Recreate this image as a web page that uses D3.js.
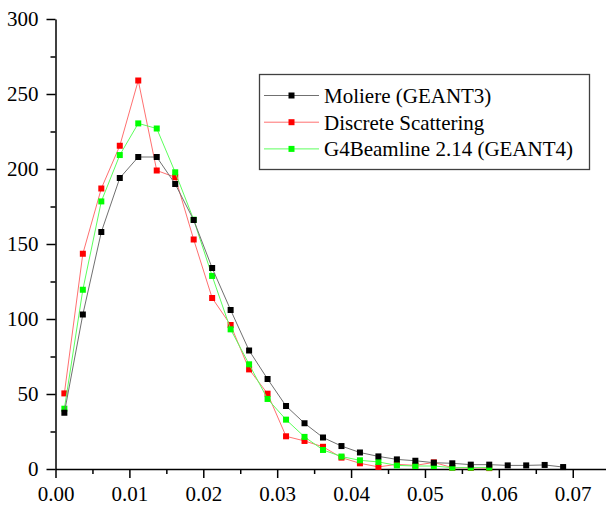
<!DOCTYPE html>
<html>
<head>
<meta charset="utf-8">
<script src="https://cdn.jsdelivr.net/npm/d3@7"></script>
<style>
  body { margin: 0; background: #fff; }
  svg { display: block; }
  .axis path, .axis line { stroke: #000; stroke-width: 1.5; }
</style>
</head>
<body>
<svg id="chart"></svg>
<script>
// bin centres (x)
const xValues = [0.0012, 0.0037, 0.0062, 0.0087, 0.0112, 0.0137, 0.0162, 0.0187, 0.0212, 0.0237,
                 0.0262, 0.0287, 0.0312, 0.0337, 0.0362, 0.0387, 0.0412, 0.0437, 0.0462, 0.0487,
                 0.0512, 0.0537, 0.0562, 0.0587, 0.0612, 0.0637, 0.0662, 0.0687];

// Moliere (GEANT3)
const moliere = [37.5, 103, 158, 194, 208, 208, 190, 166, 134, 106,
                 79, 60, 42, 30.5, 21, 15.3, 11, 8.4, 6.4, 5.5,
                 4.2, 3.8, 2.9, 2.9, 2.4, 2.4, 2.7, 1.3];

// Discrete Scattering
const discrete = [50.4, 143.5, 187, 215.5, 259, 199, 194.5, 153, 114, 96,
                  66.4, 50.2, 21.8, 18.7, 14.8, 7.6, 3.8, 1.4, 3.1, 2.4,
                  4.4, 0.9, 0.7, 0.6];

// G4Beamline 2.14 (GEANT4)
const g4beamline = [40.2, 119.5, 178.4, 209.3, 230.4, 227, 197.8, 166.2, 128.7, 93.1,
                    69.8, 46.7, 32.9, 21.4, 12.7, 8.3, 5.8, 4.7, 2.4, 2,
                    2, 0.9, 0.9, 0.9];

const seriesNames = ['Moliere (GEANT3)', 'Discrete Scattering', 'G4Beamline 2.14 (GEANT4)'];

const xMajor = [0, 0.01, 0.02, 0.03, 0.04, 0.05, 0.06, 0.07];
const xMinor = [0.005, 0.015, 0.025, 0.035, 0.045, 0.055, 0.065];
const yMajor = [0, 50, 100, 150, 200, 250, 300];
const yMinor = [25, 75, 125, 175, 225, 275];

const width = 606, height = 506;
const serif = '"Liberation Serif", "Times New Roman", Times, serif';

const svg = d3.select('#chart').attr('width', width).attr('height', height);

const xScale = d3.scaleLinear().domain([0, 0.0745]).range([55.5, 606]);
const yScale = d3.scaleLinear().domain([0, 300]).range([469, 19]);

// minor ticks
svg.append('g').attr('class', 'axis')
	.attr('transform', 'translate(0,' + yScale(0) + ')')
	.call(d3.axisBottom(xScale).tickValues(xMinor).tickSize(5).tickFormat(''))
	.select('.domain').remove();
svg.append('g').attr('class', 'axis')
	.attr('transform', 'translate(' + xScale(0) + ',0)')
	.call(d3.axisLeft(yScale).tickValues(yMinor).tickSize(5).tickFormat(''))
	.select('.domain').remove();

// major axes
const gx = svg.append('g').attr('class', 'axis')
	.attr('transform', 'translate(0,' + yScale(0) + ')')
	.call(d3.axisBottom(xScale).tickValues(xMajor).tickSize(9).tickSizeOuter(0)
		.tickPadding(8).tickFormat(d3.format('.2f')));
const gy = svg.append('g').attr('class', 'axis')
	.attr('transform', 'translate(' + xScale(0) + ',0)')
	.call(d3.axisLeft(yScale).tickValues(yMajor).tickSize(9).tickSizeOuter(0)
		.tickPadding(8).tickFormat(d3.format('d')));
[gx, gy].forEach(function(g) {
	g.attr('font-family', null).attr('font-size', null);
	g.selectAll('text')
		.style('font-family', serif)
		.style('font-size', '21px')
		.attr('fill', '#000');
});

const series = [
	{name: seriesNames[1], data: discrete, line: '#ff7070', mark: '#ff0000'},
	{name: seriesNames[2], data: g4beamline, line: '#5cff5c', mark: '#00ff00'},
	{name: seriesNames[0], data: moliere, line: '#707070', mark: '#000000'}
];

const line = d3.line()
	.x(function(d, i) { return xScale(xValues[i]); })
	.y(function(d) { return yScale(d); });

const ms = 6;
series.forEach(function(s) {
	svg.append('path')
		.datum(s.data)
		.attr('d', line)
		.attr('fill', 'none')
		.attr('stroke', s.line)
		.attr('stroke-width', 1);
	svg.append('g').selectAll('rect')
		.data(s.data)
		.enter().append('rect')
		.attr('x', function(d, i) { return xScale(xValues[i]) - ms / 2; })
		.attr('y', function(d) { return yScale(d) - ms / 2; })
		.attr('width', ms)
		.attr('height', ms)
		.attr('fill', s.mark);
});

// legend
const legend = svg.append('g').attr('class', 'legend');
legend.append('rect')
	.attr('x', 259.5).attr('y', 74.5)
	.attr('width', 330).attr('height', 95)
	.attr('fill', '#fff')
	.attr('stroke', '#404040')
	.attr('stroke-width', 1.3);

const legendItems = [
	{name: seriesNames[0], line: '#707070', mark: '#000000'},
	{name: seriesNames[1], line: '#ff7070', mark: '#ff0000'},
	{name: seriesNames[2], line: '#5cff5c', mark: '#00ff00'}
];
legendItems.forEach(function(it, i) {
	const y = 95.5 + i * 26.7;
	legend.append('line')
		.attr('x1', 264).attr('x2', 319)
		.attr('y1', y).attr('y2', y)
		.attr('stroke', it.line).attr('stroke-width', 1);
	legend.append('rect')
		.attr('x', 291.5 - ms / 2).attr('y', y - ms / 2)
		.attr('width', ms).attr('height', ms)
		.attr('fill', it.mark);
	legend.append('text')
		.attr('x', 324).attr('y', y)
		.attr('dy', '0.35em')
		.style('font-family', serif)
		.style('font-size', '21px')
		.attr('fill', '#000')
		.text(it.name);
});
</script>
</body>
</html>
